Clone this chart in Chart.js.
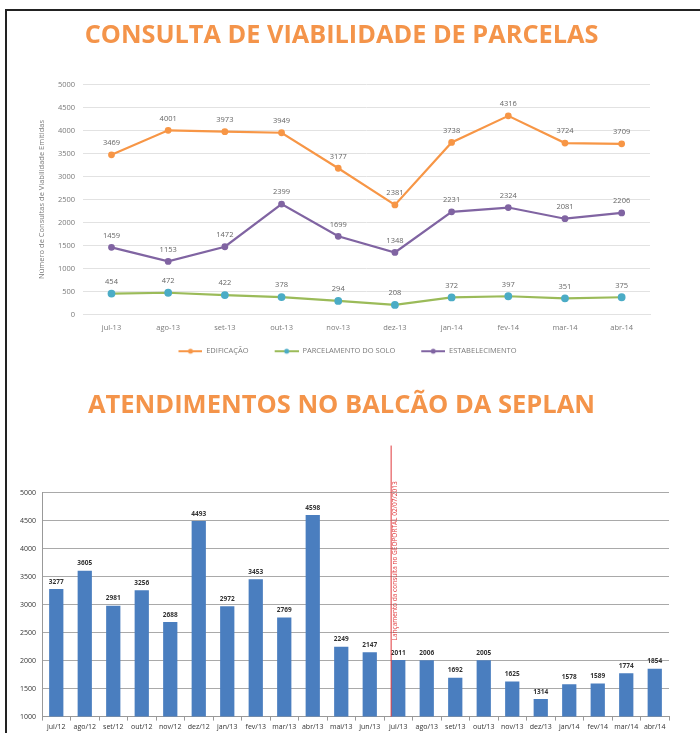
<!DOCTYPE html>
<html>
<head>
<meta charset="utf-8">
<script src="https://cdn.jsdelivr.net/npm/chart.js@4"></script>
<style>
  body { margin: 0; width: 700px; height: 733px; background: #fff; position: relative; overflow: hidden; font-family: "Open Sans", sans-serif; }
  #moldura { position: absolute; left: 5px; top: 9px; width: 700px; height: 730px; border-top: 2px solid #222; border-left: 2px solid #222; }
  #caixa1 { position: absolute; left: 8px; top: 12px; width: 686px; height: 358px; }
  #caixa2 { position: absolute; left: 8px; top: 378px; width: 686px; height: 355px; }
</style>
</head>
<body>
<div id="moldura"></div>
<div id="caixa1"><canvas id="consultasChart"></canvas></div>
<div id="caixa2"><canvas id="balcaoChart"></canvas></div>
<script>
// consultas de viabilidade
const mesesConsulta = ['jul-13', 'ago-13', 'set-13', 'out-13', 'nov-13', 'dez-13', 'jan-14', 'fev-14', 'mar-14', 'abr-14'];
const edificacao = [3469, 4001, 3973, 3949, 3177, 2381, 3738, 4316, 3724, 3709];
const parcelamento = [454, 472, 422, 378, 294, 208, 372, 397, 351, 375];
const estabelecimento = [1459, 1153, 1472, 2399, 1699, 1348, 2231, 2324, 2081, 2206];

// atendimentos no balcão
const mesesBalcao = ['jul/12', 'ago/12', 'set/12', 'out/12', 'nov/12', 'dez/12', 'jan/13', 'fev/13', 'mar/13', 'abr/13', 'mai/13', 'jun/13',
                     'jul/13', 'ago/13', 'set/13', 'out/13', 'nov/13', 'dez/13', 'jan/14', 'fev/14', 'mar/14', 'abr/14'];
const atendimentos = [3277, 3605, 2981, 3256, 2688, 4493, 2972, 3453, 2769, 4598, 2249, 2147,
                      2011, 2006, 1692, 2005, 1625, 1314, 1578, 1589, 1774, 1854];
const textoMarco = 'Lançamento da consulta no GEOPORTAL 02/07/2013';

const LARANJA = '#F4944A';
const CINZA = '#7a7a7a';
const semMilhar = v => String(v); // eixo sem separador de milhar

// rótulos de valor em cima de cada ponto / barra
const rotulosValores = {
    id: 'rotulosValores',
    afterDatasetsDraw(chart, args, opts) {
        const ctx = chart.ctx;
        ctx.save();
        ctx.font = opts.font;
        ctx.fillStyle = opts.color;
        ctx.textAlign = 'center';
        ctx.textBaseline = 'bottom';
        chart.data.datasets.forEach((ds, i) => {
            chart.getDatasetMeta(i).data.forEach((el, j) => {
                ctx.fillText(ds.data[j], el.x, el.y - opts.offset);
            });
        });
        ctx.restore();
    }
};

// linha vermelha do lançamento no geoportal
const marcoGeoportal = {
    id: 'marcoGeoportal',
    afterDatasetsDraw(chart) {
        const ctx = chart.ctx;
        const x = chart.scales.x.getPixelForValue(11.75);
        const topo = chart.scales.y.getPixelForValue(5840);
        const base = chart.chartArea.bottom;
        ctx.save();
        ctx.strokeStyle = '#e0393b';
        ctx.lineWidth = 1;
        ctx.beginPath();
        ctx.moveTo(x, topo);
        ctx.lineTo(x, base);
        ctx.stroke();
        ctx.translate(x + 4, chart.scales.y.getPixelForValue(2360));
        ctx.rotate(-Math.PI / 2);
        ctx.font = '6.5px "Open Sans"';
        ctx.fillStyle = '#e0393b';
        ctx.textAlign = 'left';
        ctx.textBaseline = 'middle';
        ctx.fillText(textoMarco, 0, 0);
        ctx.restore();
    }
};

function iconeLegenda(corLinha, corPonto) {
    const c = document.createElement('canvas');
    c.width = 36; c.height = 8;
    const g = c.getContext('2d');
    g.strokeStyle = corLinha; g.lineWidth = 2;
    g.beginPath(); g.moveTo(12, 4); g.lineTo(36, 4); g.stroke();
    g.fillStyle = corPonto;
    g.beginPath(); g.arc(24, 4, 2.5, 0, Math.PI * 2); g.fill();
    return c;
}

const series = [
    { label: 'EDIFICAÇÃO', data: edificacao, linha: '#F79646', ponto: '#F79646', raio: 2.3 },
    { label: 'PARCELAMENTO DO SOLO', data: parcelamento, linha: '#9BBB59', ponto: '#4BACC6', raio: 2.8 },
    { label: 'ESTABELECIMENTO', data: estabelecimento, linha: '#8064A2', ponto: '#8064A2', raio: 2.3 }
];

new Chart(document.getElementById('consultasChart'), {
    type: 'line',
    data: {
        labels: mesesConsulta,
        datasets: series.map(s => ({
            label: s.label,
            data: s.data,
            borderColor: s.linha,
            backgroundColor: s.ponto,
            pointBackgroundColor: s.ponto,
            pointBorderColor: s.ponto,
            pointRadius: s.raio,
            borderWidth: 2.2,
            tension: 0
        }))
    },
    options: {
        responsive: true,
        maintainAspectRatio: false,
        animation: false,
        layout: { padding: { left: 25, right: 44, top: 0, bottom: 5 } },
        plugins: {
            title: {
                display: true,
                text: 'CONSULTA DE VIABILIDADE DE PARCELAS',
                color: LARANJA,
                font: { family: '"Open Sans"', size: 25.3, weight: 'bold' },
                padding: { top: 9, bottom: 33 }
            },
            legend: {
                position: 'bottom',
                labels: {
                    usePointStyle: true,
                    pointStyleWidth: 36,
                    color: CINZA,
                    padding: 14,
                    font: { family: '"Open Sans"', size: 7.5 },
                    generateLabels(chart) {
                        const itens = Chart.defaults.plugins.legend.labels.generateLabels(chart);
                        itens.forEach((it, i) => { it.pointStyle = iconeLegenda(series[i].linha, series[i].ponto); });
                        return itens;
                    }
                }
            },
            tooltip: { enabled: false },
            rotulosValores: { font: '7.5px "Open Sans"', color: '#666', offset: 8 }
        },
        scales: {
            y: {
                min: 0, max: 5000,
                ticks: { stepSize: 500, callback: semMilhar, color: CINZA, font: { family: '"Open Sans"', size: 7.5 }, padding: 8 },
                grid: { color: '#e2e2e2', drawTicks: false },
                border: { display: false },
                title: { display: true, text: 'Número de Consultas de Viabilidade Emitidas', color: CINZA, font: { family: '"Open Sans"', size: 7.5 } }
            },
            x: {
                offset: true,
                ticks: { color: CINZA, font: { family: '"Open Sans"', size: 7.5 }, padding: 1 },
                grid: { display: false },
                border: { color: '#e2e2e2' }
            }
        }
    },
    plugins: [rotulosValores]
});

new Chart(document.getElementById('balcaoChart'), {
    type: 'bar',
    data: {
        labels: mesesBalcao,
        datasets: [{
            label: 'Atendimentos',
            data: atendimentos,
            backgroundColor: '#4A7EBF',
            barPercentage: 0.5,
            categoryPercentage: 1
        }]
    },
    options: {
        responsive: true,
        maintainAspectRatio: false,
        animation: false,
        layout: { padding: { left: 6, right: 25, top: 0, bottom: 0 } },
        plugins: {
            title: {
                display: true,
                text: 'ATENDIMENTOS NO BALCÃO DA SEPLAN',
                color: LARANJA,
                font: { family: '"Open Sans"', size: 25.5, weight: 'bold' },
                padding: { top: 12, bottom: 72 }
            },
            legend: { display: false },
            tooltip: { enabled: false },
            rotulosValores: { font: 'bold 6.5px "Open Sans"', color: '#333', offset: 4 }
        },
        scales: {
            y: {
                min: 1000, max: 5000,
                ticks: { stepSize: 500, callback: semMilhar, color: '#333', font: { family: '"Open Sans"', size: 7 }, padding: 6 },
                grid: { color: '#a9a9a9', drawTicks: false },
                border: { color: '#999' }
            },
            x: {
                ticks: { color: '#333', font: { family: '"Open Sans"', size: 7 }, padding: 2, maxRotation: 0, autoSkip: false },
                grid: { drawOnChartArea: false, tickLength: 4, color: '#999' },
                border: { color: '#999' }
            }
        }
    },
    plugins: [rotulosValores, marcoGeoportal]
});
</script>
</body>
</html>
